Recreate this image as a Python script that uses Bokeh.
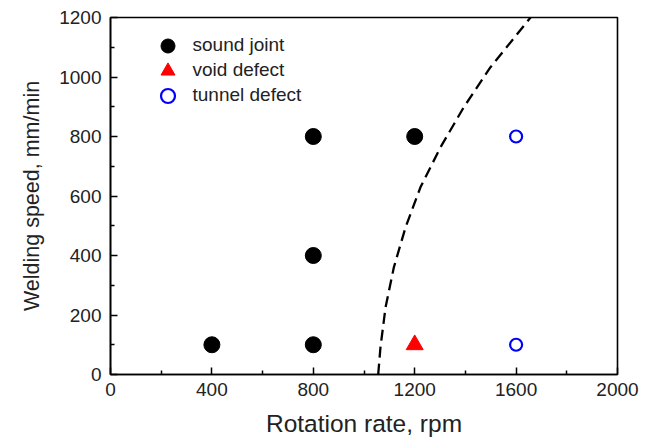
from bokeh.plotting import figure
from bokeh.models import FixedTicker, Range1d, Legend, LegendItem
from bokeh.embed import file_html
from bokeh.resources import INLINE

# Data
sound_x = [400, 800, 800, 800, 1200]
sound_y = [100, 100, 400, 800, 800]
void_x = [1200]
void_y = [100]
tunnel_x = [1600, 1600]
tunnel_y = [100, 800]
# boundary (dashed curve)
curve_x = [1056, 1065, 1085, 1118, 1164, 1223, 1302, 1394, 1499, 1657]
curve_y = [0, 92, 226, 361, 495, 630, 764, 899, 1033, 1200]

x_ticks = [0, 400, 800, 1200, 1600, 2000]
x_minor = [200, 600, 1000, 1400, 1800]
y_ticks = [0, 200, 400, 600, 800, 1000, 1200]
y_minor = [100, 300, 500, 700, 900, 1100]

legend_labels = ["sound joint", "void defect", "tunnel defect"]

FONT = "Liberation Sans"
TXT = "#222222"

p = figure(width=651, height=439, output_backend="svg", toolbar_location=None,
           x_range=Range1d(0, 2000), y_range=Range1d(0, 1200),
           min_border_left=110, min_border_right=34, min_border_top=17, min_border_bottom=65)
p.xgrid.visible = False
p.ygrid.visible = False
p.outline_line_color = "black"
p.outline_line_width = 1.6
p.outline_line_alpha = 1

for ax, ticks, minor in ((p.xaxis[0], x_ticks, x_minor), (p.yaxis[0], y_ticks, y_minor)):
    ax.ticker = FixedTicker(ticks=ticks, minor_ticks=minor)
    ax.major_tick_in = 7
    ax.major_tick_out = 0
    ax.minor_tick_in = 4
    ax.minor_tick_out = 0
    ax.major_tick_line_width = 1.5
    ax.minor_tick_line_width = 1.5
    ax.axis_line_width = 1.6
    ax.major_label_text_font = FONT
    ax.major_label_text_font_size = "19px"
    ax.major_label_text_color = TXT
    ax.axis_label_text_font = FONT
    ax.axis_label_text_font_style = "normal"
    ax.axis_label_text_color = TXT

p.xaxis.axis_label = "Rotation rate, rpm"
p.yaxis.axis_label = "Welding speed, mm/min"
p.xaxis.axis_label_text_font_size = "24.5px"
p.yaxis.axis_label_text_font_size = "21.5px"
p.xaxis.major_label_standoff = 8
p.yaxis.major_label_standoff = 9
p.xaxis.axis_label_standoff = 11
p.yaxis.axis_label_standoff = 12

p.line(curve_x, curve_y, line_color="black", line_width=2.3, line_dash="11 6")

r1 = p.scatter(sound_x, sound_y, marker="circle", size=16, fill_color="black", line_color="black")
r2 = p.scatter(void_x, void_y, marker="triangle", size=17, fill_color="red", line_color="red")
r3 = p.scatter(tunnel_x, tunnel_y, marker="circle", size=12, fill_color="white",
               line_color="blue", line_width=2.2)

# one legend per row so rows can sit 25px apart with large glyphs
for i, (lab, r) in enumerate(zip(legend_labels, [r1, r2, r3])):
    lg = Legend(items=[LegendItem(label=lab, renderers=[r])],
                location=(39.5, 311.5 - 25 * i), glyph_width=35, glyph_height=35,
                label_standoff=8, padding=0, margin=0, label_height=35,
                border_line_alpha=0, background_fill_alpha=0,
                label_text_font=FONT, label_text_font_size="19px", label_text_color=TXT)
    p.add_layout(lg, "center")

open("out.html", "w").write(file_html(p, INLINE))
